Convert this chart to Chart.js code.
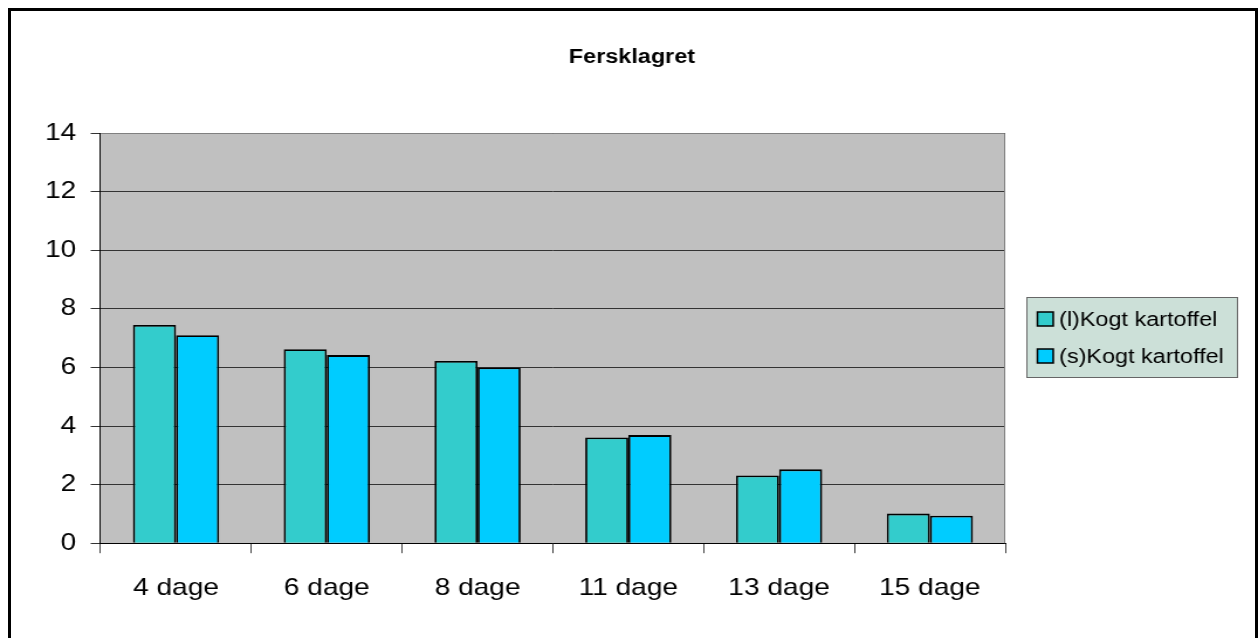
<!DOCTYPE html>
<html>
<head>
<meta charset="utf-8">
<script src="https://cdn.jsdelivr.net/npm/chart.js@4.4.0/dist/chart.umd.min.js"></script>
<style>
  html, body { margin: 0; padding: 0; background: #fff; overflow: hidden; }
  #wrap { position: relative; width: 1258px; height: 638px; }
  #frame {
    position: absolute; left: 8px; top: 8px; width: 1244px; height: 700px;
    border: 3px solid #000; pointer-events: none;
  }
</style>
</head>
<body>
<div id="wrap">
  <!-- the source picture is a little stretched sideways, so the canvas is too -->
  <canvas id="chart" width="1075" height="638" style="width:1258px;height:638px"></canvas>
  <div id="frame"></div>
</div>
<script>
// ─── Data ────────────────────────────────────────────────────────────────────
const categories = ['4 dage', '6 dage', '8 dage', '11 dage', '13 dage', '15 dage'];
const seriesNames = ['(l)Kogt kartoffel', '(s)Kogt kartoffel'];
const valuesL = [7.45, 6.62, 6.22, 3.61, 2.31, 1.01];
const valuesS = [7.10, 6.42, 6.00, 3.69, 2.52, 0.94];
const yTicks = [0, 2, 4, 6, 8, 10, 12, 14];

const FONT = "'Liberation Sans', Arial, sans-serif";

// gray plot area + thin gray border top/right
const plotBackground = {
  id: 'plotBackground',
  beforeDraw(chart) {
    const { ctx, chartArea: a } = chart;
    ctx.save();
    ctx.fillStyle = '#c0c0c0';
    ctx.fillRect(a.left, a.top, a.right - a.left, a.bottom - a.top);
    ctx.restore();
  },
  afterDatasetsDraw(chart) {
    const { ctx, chartArea: a } = chart;
    ctx.save();
    ctx.strokeStyle = '#808080';
    ctx.lineWidth = 1;
    ctx.beginPath();
    ctx.moveTo(a.left, a.top + 0.5);
    ctx.lineTo(a.right - 0.5, a.top + 0.5);
    ctx.lineTo(a.right - 0.5, a.bottom);
    ctx.stroke();
    ctx.restore();
  }
};

// Excel-style legend box on the right
const boxLegend = {
  id: 'boxLegend',
  afterDraw(chart) {
    const { ctx } = chart;
    const x = 877, y = 297, w = 181, h = 81;
    ctx.save();
    ctx.fillStyle = '#cce0d8';
    ctx.fillRect(x, y, w, h);
    ctx.strokeStyle = '#666';
    ctx.lineWidth = 1;
    ctx.strokeRect(x + 0.5, y + 0.5, w - 1, h - 1);
    ctx.font = '20px ' + FONT;
    ctx.textBaseline = 'middle';
    chart.data.datasets.forEach((ds, i) => {
      const cy = y + 22 + i * 37;
      ctx.fillStyle = ds.backgroundColor;
      ctx.fillRect(x + 9.5, cy - 7, 13.5, 14);
      ctx.strokeStyle = '#000';
      ctx.lineWidth = 1.5;
      ctx.strokeRect(x + 9.5, cy - 7, 13.5, 14);
      ctx.fillStyle = '#000';
      ctx.fillText(ds.label, x + 28, cy + 1);
    });
    ctx.restore();
  }
};

new Chart(document.getElementById('chart'), {
  type: 'bar',
  data: {
    labels: categories,
    datasets: [
      { label: seriesNames[0], data: valuesL, backgroundColor: '#33cccc' },
      { label: seriesNames[1], data: valuesS, backgroundColor: '#00ccff' }
    ].map(d => Object.assign(d, {
      borderColor: '#000',
      borderWidth: 1.8,
      borderSkipped: 'bottom',
      barPercentage: 1,
      categoryPercentage: 2 / 3.5
    }))
  },
  options: {
    responsive: false,
    animation: false,
    layout: { padding: { left: 26, right: 21, top: 0, bottom: 15 } },
    plugins: {
      legend: { display: false },
      tooltip: { enabled: false },
      title: {
        display: true,
        text: 'Fersklagret',
        color: '#000',
        font: { family: FONT, size: 20, weight: 'bold' },
        padding: { top: 45, bottom: 64 }
      }
    },
    scales: {
      x: {
        offset: true,
        grid: {
          offset: true,
          drawOnChartArea: false,
          color: '#404040',
          tickLength: 10
        },
        border: { color: '#000', width: 1 },
        ticks: { color: '#000', font: { family: FONT, size: 24 }, padding: 20.5 }
      },
      y: {
        min: 0,
        max: 14,
        afterBuildTicks(axis) { axis.ticks = yTicks.map(v => ({ value: v })); },
        grid: { color: '#333', tickLength: 8.5 },
        border: { color: '#000', width: 1 },
        ticks: { color: '#000', font: { family: FONT, size: 24 }, padding: 12.4 }
      },
      // empty axis that keeps room for the legend box, so the title stays centred
      legendSpace: {
        position: 'right',
        grid: { display: false },
        border: { display: false },
        ticks: { display: false },
        afterFit(axis) { axis.width = 195; }
      }
    }
  },
  plugins: [plotBackground, boxLegend]
});
</script>
</body>
</html>
